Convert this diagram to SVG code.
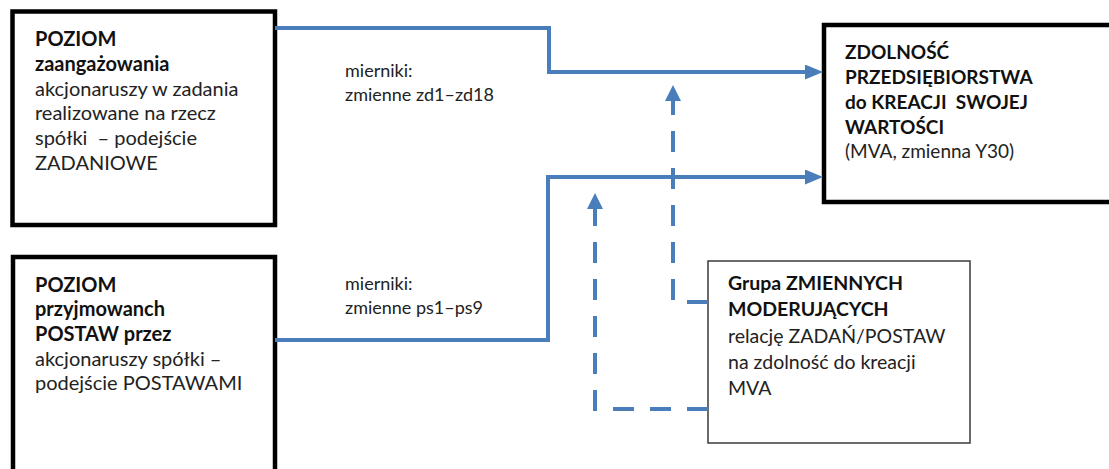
<svg xmlns="http://www.w3.org/2000/svg" width="1109" height="469" viewBox="0 0 1109 469">
<style>
.box{fill:#fff;stroke:#000;stroke-width:4.5}
.thin{fill:#fff;stroke:#3a3a3a;stroke-width:1.5}
text{font-family:Lato,"Open Sans","Liberation Sans",sans-serif;font-size:19px;fill:#222}
.b{font-weight:bold;fill:#111}
.big{font-size:20px}
.mod{font-size:19.5px}
.lbl{font-size:18px}
.conn{fill:none;stroke:#4a7ebb;stroke-width:4}
.dash{stroke-dasharray:21 16}
</style>
<defs>
<marker id="ah" markerUnits="userSpaceOnUse" viewBox="0 0 18 15" refX="4" refY="7.5" markerWidth="18" markerHeight="15" orient="auto">
<path d="M0,0 L18,7.5 L0,15 z" fill="#4a7ebb"/>
</marker>
<marker id="ahd" markerUnits="userSpaceOnUse" viewBox="0 0 16 16" refX="4" refY="8" markerWidth="16" markerHeight="16" orient="auto">
<path d="M0,0 L16,8 L0,16 z" fill="#4a7ebb"/>
</marker>
</defs>
<g id="node-zadaniowe">
<rect class="box" x="12.5" y="11.5" width="262.5" height="213.5"/>
<text x="35" y="46" class="b big">POZIOM</text>
<text x="35" y="71" class="b big">zaangażowania</text>
<text x="35" y="96" class="big">akcjonaruszy w zadania</text>
<text x="35" y="120" class="big">realizowane na rzecz</text>
<text x="35" y="145" class="big" xml:space="preserve">spółki  – podejście</text>
<text x="35" y="170" class="big">ZADANIOWE</text>
</g>
<g id="node-postawy">
<rect class="box" x="13" y="257" width="262" height="230"/>
<text x="35" y="292" class="b big">POZIOM</text>
<text x="35" y="316" class="b big">przyjmowanch</text>
<text x="35" y="341" class="b big">POSTAW przez</text>
<text x="35" y="366" class="big">akcjonaruszy spółki –</text>
<text x="35" y="390" class="big">podejście POSTAWAMI</text>
</g>
<g id="node-mva">
<rect class="box" x="824" y="25" width="300" height="177"/>
<text x="845" y="59" class="b">ZDOLNOŚĆ</text>
<text x="845" y="84" class="b">PRZEDSIĘBIORSTWA</text>
<text x="845" y="109" class="b" xml:space="preserve">do KREACJI  SWOJEJ</text>
<text x="845" y="134" class="b">WARTOŚCI</text>
<text x="845" y="158">(MVA, zmienna Y30)</text>
</g>
<g id="node-moderatory">
<rect class="thin" x="708" y="261" width="262" height="182"/>
<text x="728" y="290" class="b mod">Grupa ZMIENNYCH</text>
<text x="728" y="316" class="b mod">MODERUJĄCYCH</text>
<text x="728" y="343" class="mod">relację ZADAŃ/POSTAW</text>
<text x="728" y="369" class="mod">na zdolność do kreacji</text>
<text x="728" y="395" class="mod">MVA</text>
</g>
<g id="connectors">
<path class="conn" d="M275,28 H549 V72 H809" marker-end="url(#ah)"/>
<path class="conn" d="M275,340 H548 V177 H809" marker-end="url(#ah)"/>
<path class="conn dash" d="M708,302 H673 V97" marker-end="url(#ahd)"/>
<path class="conn dash" d="M708,409 H595 V205" marker-end="url(#ahd)"/>
</g>
<g id="labels">
<text x="345" y="77" class="lbl">mierniki:</text>
<text x="345" y="101" class="lbl">zmienne zd1–zd18</text>
<text x="345" y="290" class="lbl">mierniki:</text>
<text x="345" y="314" class="lbl">zmienne ps1–ps9</text>
</g>
</svg>
